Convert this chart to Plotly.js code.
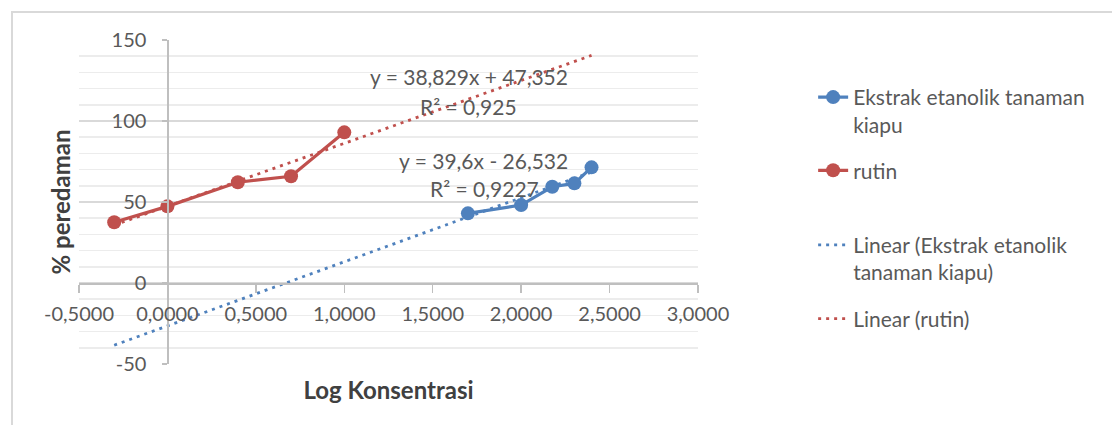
<!DOCTYPE html>
<html>
<head>
<meta charset="utf-8">
<script src="https://cdn.plot.ly/plotly-3.0.1.min.js"></script>
<style>
  html, body { margin: 0; padding: 0; background: #ffffff; }
  #frame { position: absolute; left: 11px; top: 11px; width: 1200px; height: 500px; border: 2px solid #d9d9d9; }
  #chart { position: absolute; left: 0; top: 0; width: 1112px; height: 425px; }
</style>
</head>
<body>
<div id="frame"></div>
<div id="chart"></div>
<script>
// ---- data ----
const ekstrakX = [1.699, 2.000, 2.176, 2.301, 2.398];
const ekstrakY = [43.0, 48.1, 59.4, 61.5, 71.4];
const rutinX = [-0.301, 0.000, 0.398, 0.699, 1.000];
const rutinY = [37.5, 47.3, 62.2, 65.9, 93.0];
// trendline end points as drawn (Excel linear trendlines)
const ekstrakTrendX = [-0.301, 2.398];
const ekstrakTrendY = [-38.4, 68.4];
const rutinTrendX = [-0.301, 2.398];
const rutinTrendY = [35.7, 140.5];
// labels
const seriesNames = ["Ekstrak etanolik tanaman<br>kiapu", "rutin",
                     "Linear (Ekstrak etanolik<br>tanaman kiapu)", "Linear (rutin)"];
const xTickVals = [-0.5, 0, 0.5, 1, 1.5, 2, 2.5, 3];
const xTickText = ["-0,5000", "0,0000", "0,5000", "1,0000", "1,5000", "2,0000", "2,5000", "3,0000"];
const yTickVals = [-50, 0, 50, 100, 150];
const yTickText = ["-50", "0", "50", "100", "150"];
const eqTexts = ["y = 38,829x + 47,352", "R² = 0,925", "y = 39,6x - 26,532", "R² = 0,9227"];
const eqX = [1.705, 1.702, 1.788, 1.79];
const eqY = [127.3, 108.8, 75.9, 58.5];

const BLUE = "#4F81BD", RED = "#C0504D";
const FONT = "Lato, 'Open Sans', sans-serif";
const TXT = "#595959";

const traces = [
  { x: ekstrakTrendX, y: ekstrakTrendY, mode: "lines", name: seriesNames[2], legend: "legend3",
    line: { color: BLUE, width: 2.8, dash: "3px,5px" } },
  { x: rutinTrendX, y: rutinTrendY, mode: "lines", name: seriesNames[3], legend: "legend4",
    line: { color: RED, width: 2.8, dash: "3px,5px" } },
  { x: ekstrakX, y: ekstrakY, mode: "lines+markers", name: seriesNames[0], legend: "legend",
    line: { color: BLUE, width: 3.2 }, marker: { color: BLUE, size: 14 } },
  { x: rutinX, y: rutinY, mode: "lines+markers", name: seriesNames[1], legend: "legend2",
    line: { color: RED, width: 3.2 }, marker: { color: RED, size: 14 } }
];

function leg(y) {
  return { x: 1.186, y: y, xanchor: "left", yanchor: "top", valign: "top",
           bgcolor: "rgba(0,0,0,0)", font: { family: FONT, size: 21, color: TXT },
           itemclick: false, itemdoubleclick: false };
}

const annotations = eqTexts.map((t, i) => ({
  x: eqX[i], y: eqY[i], xref: "x", yref: "y", text: t, showarrow: false,
  xanchor: "center", yanchor: "middle", font: { family: FONT, size: 21, color: TXT }
}));

const layout = {
  width: 1112, height: 425,
  margin: { l: 79, r: 414, t: 40, b: 61, pad: 0 },
  paper_bgcolor: "rgba(0,0,0,0)", plot_bgcolor: "rgba(0,0,0,0)",
  separators: ", ",
  font: { family: FONT, color: TXT },
  showlegend: true,
  xaxis: {
    range: [-0.5, 3.0], tickmode: "array", tickvals: xTickVals, ticktext: xTickText,
    showgrid: false, zeroline: false, showline: true, linecolor: "#bfbfbf", linewidth: 1.5,
    ticks: "outside", ticklen: 8, tickcolor: "#bfbfbf", tickwidth: 1.5,
    anchor: "free", position: 0.25, ticklabelstandoff: 4,
    tickfont: { family: FONT, size: 20, color: TXT },
    title: { text: "Log Konsentrasi", standoff: 58,
             font: { family: FONT, size: 24, color: "#404040", weight: "bold" } }
  },
  yaxis: {
    range: [-50, 150], tickmode: "array", tickvals: yTickVals, ticktext: yTickText,
    showgrid: true, gridcolor: "#d9d9d9", gridwidth: 1.5,
    minor: { tickmode: "linear", tick0: 0, dtick: 10, showgrid: true, gridcolor: "#ececec", gridwidth: 1.5, ticks: "" },
    zeroline: false, showline: true, linecolor: "#bfbfbf", linewidth: 1.5,
    ticks: "outside", ticklen: 5, tickcolor: "#bfbfbf", tickwidth: 1.5,
    anchor: "free", position: 0.5 / 3.5, ticklabelstandoff: 12,
    tickfont: { family: FONT, size: 20, color: TXT },
    title: { text: "% peredaman", standoff: 32,
             font: { family: FONT, size: 24, color: "#404040", weight: "bold" } }
  },
  legend: leg(0.886),
  legend2: leg(0.66),
  legend3: leg(0.43),
  legend4: leg(0.202),
  annotations: annotations
};

Plotly.newPlot("chart", traces, layout, { displayModeBar: false, staticPlot: true });
</script>
</body>
</html>
